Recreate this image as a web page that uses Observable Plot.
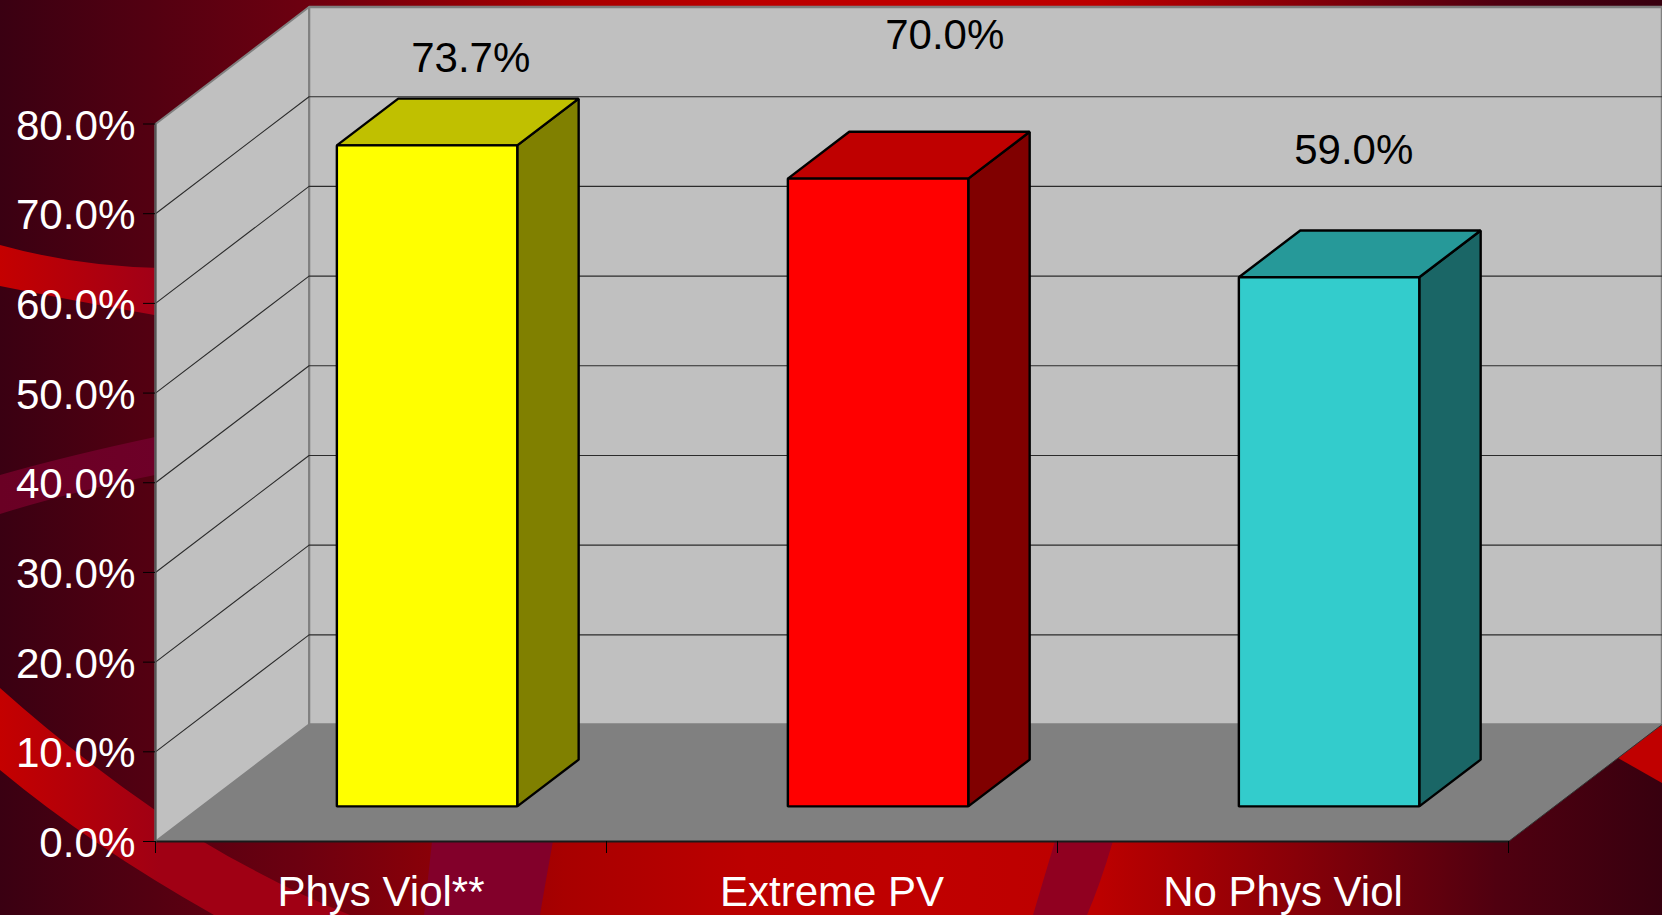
<!DOCTYPE html>
<html>
<head>
<meta charset="utf-8">
<script src="https://cdn.jsdelivr.net/npm/d3@7"></script>
<script src="https://cdn.jsdelivr.net/npm/@observablehq/plot@0.6"></script>
<style>
html,body{margin:0;padding:0;width:1662px;height:915px;overflow:hidden;background:#3a0012}
#stage{position:relative;width:1662px;height:915px;overflow:hidden;
  background:linear-gradient(90deg,#3a0012 0%,#6c0010 18%,#a80000 34%,#bc0000 45%,#c00000 56%,#bc0000 66%,#880008 78%,#500010 90%,#38000f 100%)}
.sw{position:absolute;left:0;top:0;width:1662px;height:915px}
#chart{position:absolute;left:0;top:0}
</style>
</head>
<body>
<div id="stage">
  <div class="sw" style="background:linear-gradient(90deg,#c40000 0,#a00018 160px);clip-path:path('M0 245 Q75 266 160 268 L160 316 Q70 300 0 286 Z')"></div>
  <div class="sw" style="background:linear-gradient(90deg,#6a0024 0,#6e0028 160px);clip-path:path('M0 475 Q70 455 160 436 L160 474 Q70 492 0 514 Z')"></div>
  <div class="sw" style="background:linear-gradient(90deg,#c40000 0,#a00014 160px,#a00014 400px);clip-path:path('M0 688 Q75 755 155 810 Q205 845 250 868 Q300 895 350 915 L214 915 Q90 845 0 770 Z')"></div>
  <div class="sw" style="background:#82002a;clip-path:path('M432 841 L553 841 Q545 885 540 915 L424 915 Z')"></div>
  <div class="sw" style="background:#900020;clip-path:path('M1055 841 L1113 841 Q1100 885 1087 915 L1033 915 Z')"></div>
  <div class="sw" style="background:#c00000;clip-path:path('M1618 758 L1662 723 L1662 783 Z')"></div>
  <div id="chart"></div>
</div>
<script>
// Chart values
const categories = ["Phys Viol**", "Extreme PV", "No Phys Viol"];
const values = [73.7, 70.0, 59.0];
const valueTicks = [0, 10, 20, 30, 40, 50, 60, 70, 80];
const gridValues = [10, 20, 30, 40, 50, 60, 70];
const categoryEdges = [0, 1, 2, 3];

// Palette per bar: front, top, side
const frontFills = ["#ffff00", "#ff0000", "#33cccc"];
const topFills = ["#c0c000", "#bf0000", "#269999"];
const sideFills = ["#808000", "#800000", "#1a6666"];

// Oblique projection, expressed in data units of the two scales
const depthX = 0.3404, depthY = 13.04;
const barHalf = 0.2, depthFront = 0.3, depthBack = 0.7;
const P = (c, v, d) => ({x: c + d * depthX, y: v + d * depthY});

const face = (pts, fill, stroke = "none", strokeWidth = 1) =>
  Plot.line(pts, {x: "x", y: "y", curve: "linear-closed", fill, stroke, strokeWidth, strokeLinejoin: "miter"});
const edge = (pts, stroke, strokeWidth = 1) =>
  Plot.line(pts, {x: "x", y: "y", stroke, strokeWidth});

const barMarks = values.flatMap((v, i) => {
  const l = i + 0.5 - barHalf, r = i + 0.5 + barHalf;
  const a = depthFront, b = depthBack;
  return [
    face([P(r,0,a), P(r,0,b), P(r,v,b), P(r,v,a)], sideFills[i], "#000", 2.4),
    face([P(l,v,a), P(r,v,a), P(r,v,b), P(l,v,b)], topFills[i], "#000", 2.4),
    face([P(l,0,a), P(r,0,a), P(r,v,a), P(l,v,a)], frontFills[i], "#000", 2.4)
  ];
});

// Value labels were hand-placed in the source chart
const labelShift = [[13, -63], [36, -120], [-6, -103]];
const labelMarks = values.map((v, i) => {
  const p = P(i + 0.5, v, 0.5);
  return Plot.text([p], {x: "x", y: "y", text: () => v.toFixed(1) + "%", fill: "#000",
    fontSize: 42, dx: labelShift[i][0], dy: labelShift[i][1]});
});

const chart = Plot.plot({
  width: 1662, height: 915,
  marginLeft: 155, marginRight: 154, marginTop: 123.5, marginBottom: 74,
  style: {background: "transparent", fontFamily: "'Liberation Sans', Arial, sans-serif", overflow: "visible"},
  x: {domain: [0, 3], axis: null},
  y: {domain: [0, 80], axis: null},
  marks: [
    face([P(0,0,1), P(3,0,1), P(3,80,1), P(0,80,1)], "#c0c0c0", "#808080", 2.5),
    face([P(0,0,0), P(0,0,1), P(0,80,1), P(0,80,0)], "#c0c0c0", "#808080", 2),
    face([P(0,0,0), P(3,0,0), P(3,0,1), P(0,0,1)], "#808080"),
    ...gridValues.map(v => edge([P(0,v,0), P(0,v,1), P(3,v,1)], "#2b2b2b", 1.1)),
    edge([P(3,0,0), P(3,0,1)], "#333", 1),
    edge([P(0,0,0), P(3,0,0)], "#1a1a1a", 2),
    edge([P(0,0,0), P(0,80,0)], "#555", 2),
    ...barMarks,
    Plot.axisY({ticks: valueTicks, tickSize: 12, stroke: "#000", tickFormat: () => "", label: null}),
    Plot.axisY({ticks: valueTicks, tickSize: 0, tickPadding: 20, dy: 2, fill: "#fff",
      fontSize: 42.2, tickFormat: d => d.toFixed(1) + "%", label: null}),
    Plot.axisX({ticks: categoryEdges, tickSize: 12, stroke: "#000", tickFormat: () => "", label: null}),
    Plot.axisX({ticks: categories.map((c, i) => i + 0.5), tickSize: 0, tickPadding: 35, fill: "#fff",
      fontSize: 42, tickFormat: d => categories[d - 0.5], label: null}),
    ...labelMarks
  ]
});
document.getElementById("chart").appendChild(chart);
</script>
</body>
</html>
